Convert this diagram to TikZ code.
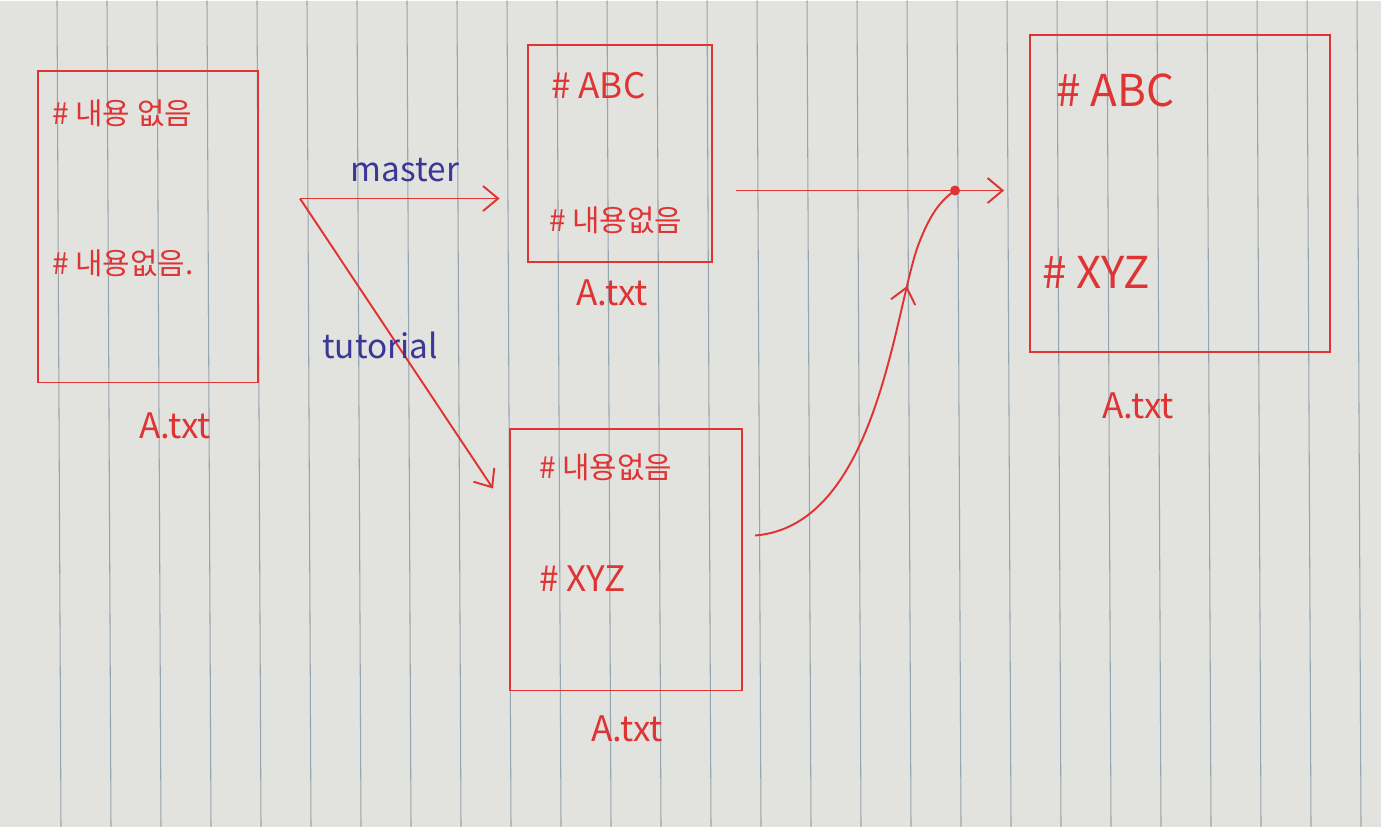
\documentclass[tikz,border=0pt]{standalone}
\usepackage{fontspec}
\setmainfont{Noto Sans CJK KR}
\usetikzlibrary{arrows.meta,positioning,decorations.markings}
\definecolor{pen}{RGB}{222,52,52}
\definecolor{ink}{RGB}{60,55,150}
\definecolor{paper}{RGB}{226,226,222}
\definecolor{rule}{RGB}{150,165,175}

\begin{document}
\begin{tikzpicture}[
    x=0.02cm, y=-0.02cm,
    file/.style={draw=pen, line width=1.1pt, minimum width=#1},
    line/.style={text=pen, font=\fontsize{17}{20}\selectfont, anchor=west},
    bigline/.style={text=pen, font=\fontsize{25}{28}\selectfont, anchor=west},
    fname/.style={text=pen, font=\fontsize{20}{24}\selectfont},
    branch/.style={text=ink, font=\fontsize{19}{22}\selectfont},
    flow/.style={draw=pen, line width=1.1pt, -{Straight Barb[length=3mm,width=5mm]}},
    merged/.style={draw=pen, line width=1.1pt, postaction={decorate},
        decoration={markings, mark=at position 0.74 with {\arrow{Straight Barb[length=3mm,width=5mm]}}}}
]
% paper
\fill[paper] (0,0) rectangle (1381,826);
\foreach \x in {57,107,...,1357}
    \draw[rule, line width=0.6pt] (\x,0) -- (\x+4,826);
\useasboundingbox (0,0) rectangle (1381,826);

% files
\node[file=4.4cm, minimum height=6.24cm] (orig) at (148,226) {};
\node[file=3.68cm, minimum height=4.34cm] (mast) at (620,153) {};
\node[file=4.64cm, minimum height=5.24cm] (tut) at (626,559) {};
\node[file=6cm, minimum height=6.34cm] (res) at (1180,193) {};

\node[line] (o1) at (46,113) {\# 내용 없음};
\node[line] (o2) at (46,263) {\# 내용없음.};
\node[line, font=\fontsize{20}{24}\selectfont] (m1) at (545,85) {\# ABC};
\node[line] (m2) at (543,220) {\# 내용없음};
\node[line] (t1) at (533,467) {\# 내용없음};
\node[line, font=\fontsize{20}{24}\selectfont] (t2) at (533,578) {\# XYZ};
\node[bigline] (r1) at (1050,90) {\# ABC};
\node[bigline] (r2) at (1036,272) {\# XYZ};

\node[fname] (on) at (175,425) {A.txt};
\node[fname] (mn) at (612,292) {A.txt};
\node[fname] (tn) at (627,728) {A.txt};
\node[fname] (rn) at (1138,405) {A.txt};

% branches
\coordinate (fork) at (300,198);
\coordinate (tutend) at (493,488);
\coordinate (merge) at (955,190);
\coordinate (tutout) at (755,535);
\draw[flow, shorten >=0.55cm] (fork) -- (mast.west |- fork);
\draw[flow] (fork) -- (tutend);
\node[branch] (ml) at (405,170) {master};
\node[branch] (tl) at (380,345) {tutorial};

% merge
\draw[flow, shorten >=0.5cm] ([xshift=0.46cm]mast.east |- merge) -- (res.west |- merge);
\draw[merged] (tutout) .. controls (880,525) and (895,300) .. (920,240) .. controls (930,215) and (940,200) .. (merge);
\fill[pen] (merge) circle (5);
\end{tikzpicture}
\end{document}
